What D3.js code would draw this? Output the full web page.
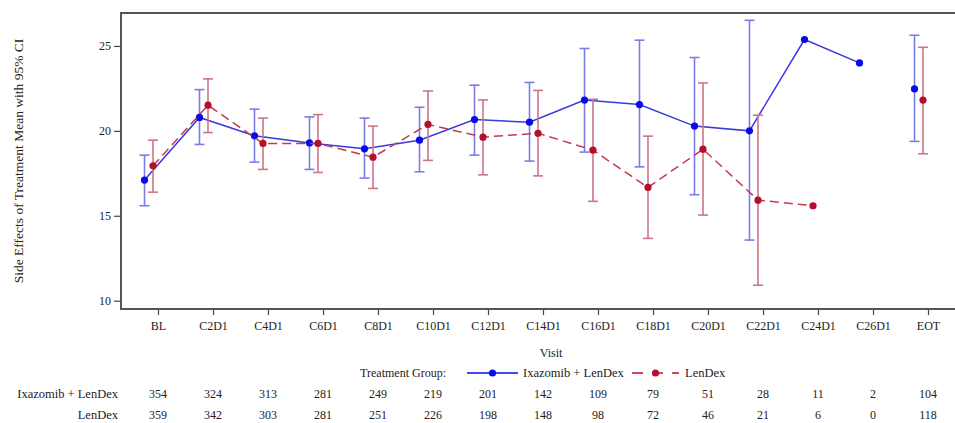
<!DOCTYPE html>
<html><head><meta charset="utf-8">
<script src="https://cdn.jsdelivr.net/npm/d3@7/dist/d3.min.js"></script>
<style>body{margin:0;background:#fff}svg{display:block}text{font-family:"Liberation Serif","Times New Roman",serif;fill:#222}</style>
</head><body><svg id="c" width="955" height="423"></svg>
<script>
const visits = ["BL","C2D1","C4D1","C6D1","C8D1","C10D1","C12D1","C14D1","C16D1","C18D1","C20D1","C22D1","C24D1","C26D1","EOT"];
const ixaMean  = [17.10,20.79,19.71,19.29,18.94,19.45,20.67,20.51,21.81,21.55,20.28,20.00,25.38,24.00,22.47];
const ixaLower = [15.59,19.20,18.16,17.73,17.22,17.59,18.57,18.22,18.75,17.88,16.24,13.57,null,null,19.38];
const ixaUpper = [18.57,22.43,21.28,20.82,20.75,21.39,22.69,22.85,24.85,25.34,24.32,26.51,null,null,25.63];
const lenMean  = [17.94,21.51,19.26,19.26,18.45,20.38,19.63,19.86,18.86,16.67,18.92,15.92,15.59,null,21.81];
const lenLower = [16.39,19.90,17.73,17.55,16.61,18.26,17.41,17.35,15.85,13.67,15.04,10.91,null,null,18.65];
const lenUpper = [19.45,23.06,20.75,20.96,20.28,22.35,21.82,22.38,21.86,19.69,22.82,20.92,null,null,24.92];
const ixaN = [354,324,313,281,249,219,201,142,109,79,51,28,11,2,104];
const lenN = [359,342,303,281,251,226,198,148,98,72,46,21,6,0,118];
const yTicks = [10,15,20,25];
const groupNames = ["Ixazomib + LenDex","LenDex"];

const svg = d3.select("#c");
const plot = {left:121, top:13, bottom:309, right:981};
const x = d3.scalePoint().domain(visits).range([158,928]);
const y = d3.scaleLinear().domain([9.51,26.94]).range([plot.bottom, plot.top]);

const series = [
  {name:groupNames[0], mean:ixaMean, lo:ixaLower, hi:ixaUpper, dx:-13.5, mk:"#0a0ae6", line:"#3a3ade", bar:"#7c7ce6", dash:null},
  {name:groupNames[1], mean:lenMean, lo:lenLower, hi:lenUpper, dx:-5, mk:"#b40f2c", line:"#c33a52", bar:"#cc7686", dash:"9,5"}
];

// axes
const yAxis = svg.append("g").attr("transform",`translate(${plot.left},0)`)
  .call(d3.axisLeft(y).tickValues(yTicks).tickSize(7).tickPadding(3));
const xAxis = svg.append("g").attr("transform",`translate(0,${plot.bottom})`)
  .call(d3.axisBottom(x).tickSize(6).tickPadding(6));
[yAxis,xAxis].forEach(a=>{
  a.select(".domain").remove();
  a.selectAll("line").attr("stroke","#444").attr("stroke-width",1.2);
  a.selectAll("text").style("font-family",'"Liberation Serif",serif').style("font-size","12px").attr("fill","#222");
});

// frame
svg.append("rect").attr("x",plot.left).attr("y",plot.top)
  .attr("width",plot.right-plot.left).attr("height",plot.bottom-plot.top)
  .attr("fill","none").attr("stroke","#555").attr("stroke-width",2);

// series
series.forEach(s=>{
  const g = svg.append("g");
  const idx = d3.range(visits.length);
  const lineIdx = idx.filter(i=>visits[i]!=="EOT");
  const line = d3.line().defined(i=>s.mean[i]!=null)
    .x(i=>x(visits[i])+s.dx).y(i=>y(s.mean[i]));
  g.append("path").datum(lineIdx).attr("d",line).attr("fill","none")
    .attr("stroke",s.line).attr("stroke-width",1.5).attr("stroke-dasharray",s.dash);
  const eb = idx.filter(i=>s.lo[i]!=null);
  const cx = i=>x(visits[i])+s.dx;
  g.selectAll(".v").data(eb).join("line").attr("x1",cx).attr("x2",cx)
    .attr("y1",i=>y(s.lo[i])).attr("y2",i=>y(s.hi[i])).attr("stroke",s.bar).attr("stroke-width",1.6);
  ["lo","hi"].forEach(k=>{
    g.selectAll(".c"+k).data(eb).join("line").attr("x1",i=>cx(i)-5).attr("x2",i=>cx(i)+5)
      .attr("y1",i=>y(s[k][i])).attr("y2",i=>y(s[k][i])).attr("stroke",s.bar).attr("stroke-width",1.6);
  });
  g.selectAll("circle").data(idx.filter(i=>s.mean[i]!=null)).join("circle")
    .attr("cx",cx).attr("cy",i=>y(s.mean[i])).attr("r",3.6).attr("fill",s.mk);
});

// axis titles
svg.append("text").attr("transform",`translate(23,${(plot.top+plot.bottom)/2}) rotate(-90)`)
  .attr("text-anchor","middle").style("font-size","13.5px").text("Side Effects of Treatment Mean with 95% CI");
svg.append("text").attr("x",(plot.left+plot.right)/2).attr("y",357).attr("text-anchor","middle")
  .style("font-size","12px").text("Visit");

// legend
const ly = 373;
svg.append("text").attr("x",446).attr("y",ly+4).attr("text-anchor","end").style("font-size","12px").text("Treatment Group:");
const leg = [{x0:467,x1:518,t:523},{x0:632,x1:679,t:685}];
series.forEach((s,k)=>{
  const L = leg[k];
  svg.append("line").attr("x1",L.x0).attr("x2",L.x1).attr("y1",ly).attr("y2",ly)
    .attr("stroke",s.mk).attr("stroke-width",1.5).attr("stroke-dasharray",s.dash?"11,9":null);
  svg.append("circle").attr("cx",(L.x0+L.x1)/2).attr("cy",ly).attr("r",3.6).attr("fill",s.mk);
  svg.append("text").attr("x",L.t).attr("y",ly+4).style("font-size","12.5px").text(s.name);
});

// at-risk table
[ixaN,lenN].forEach((arr,k)=>{
  const ry = 398 + k*21;
  svg.append("text").attr("x",118).attr("y",ry).attr("text-anchor","end").style("font-size","12.5px").text(groupNames[k]);
  svg.selectAll(null).data(arr).join("text").attr("x",(d,i)=>x(visits[i])).attr("y",ry)
    .attr("text-anchor","middle").style("font-size","12px").text(d=>d);
});
</script></body></html>
